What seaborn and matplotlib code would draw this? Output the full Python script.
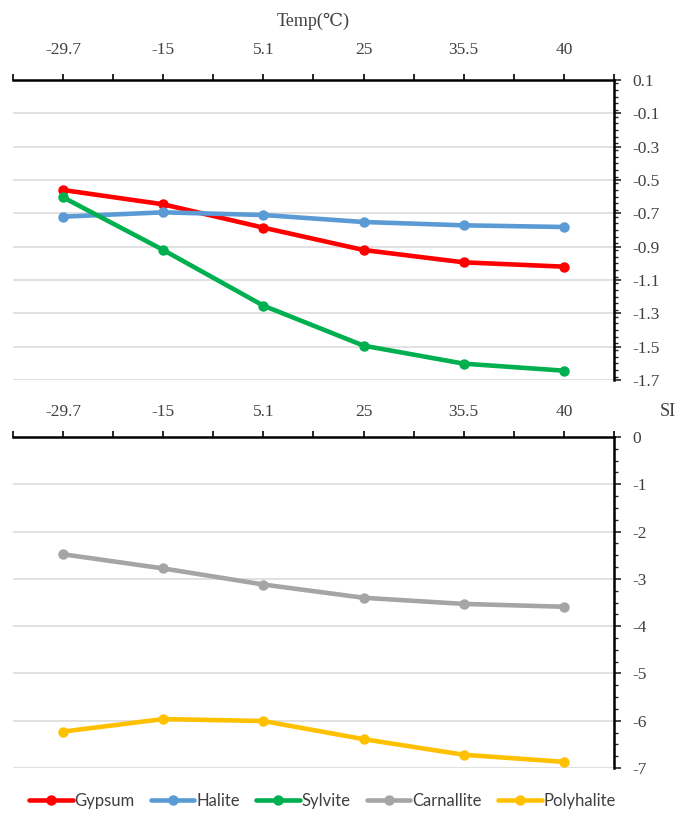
import numpy as np
import pandas as pd
import matplotlib
matplotlib.use("Agg")
import matplotlib.pyplot as plt
import seaborn as sns
from matplotlib.ticker import MultipleLocator, FixedLocator

# ---- data ----
temps = ["-29.7", "-15", "5.1", "25", "35.5", "40"]
gypsum = [-0.56, -0.646, -0.786, -0.92, -0.994, -1.02]
halite = [-0.72, -0.694, -0.71, -0.752, -0.772, -0.782]
sylvite = [-0.604, -0.92, -1.254, -1.494, -1.602, -1.644]
carnallite = [-2.48, -2.78, -3.12, -3.40, -3.53, -3.59]
polyhalite = [-6.23, -5.965, -6.007, -6.39, -6.72, -6.87]
top_ticks = [0.1, -0.1, -0.3, -0.5, -0.7, -0.9, -1.1, -1.3, -1.5, -1.7]

top_names = ["Gypsum", "Halite", "Sylvite"]
bot_names = ["Carnallite", "Polyhalite"]
colors = {"Gypsum": "#FF0000", "Halite": "#5B9BD5", "Sylvite": "#00B050",
          "Carnallite": "#A5A5A5", "Polyhalite": "#FFC000"}

pos = list(range(len(temps)))
def long(names, series):
    rows = []
    for n, s in zip(names, series):
        for p, v in zip(pos, s):
            rows.append({"pos": p, "SI": v, "mineral": n})
    return pd.DataFrame(rows)

df_top = long(top_names, [gypsum, halite, sylvite])
df_bot = long(bot_names, [carnallite, polyhalite])

sns.set_style("white")
serif = ["Liberation Serif", "DejaVu Serif"]
plt.rcParams["font.family"] = serif
plt.rcParams["axes.unicode_minus"] = False

W, H = 689, 817
fig = plt.figure(figsize=(W / 100, H / 100), dpi=100)
L, R = 13 / W, 614 / W
ax1 = fig.add_axes([L, 1 - 380 / H, R - L, 300 / H])
ax2 = fig.add_axes([L, 1 - 768 / H, R - L, 331 / H])

for ax, df, names in [(ax1, df_top, top_names), (ax2, df_bot, bot_names)]:
    sns.lineplot(data=df, x="pos", y="SI", hue="mineral", hue_order=names,
                 palette=colors, marker="o", markersize=7.5, markeredgewidth=0,
                 linewidth=3.3, ax=ax, legend=True, zorder=3)
    ax.set_xlim(-0.5, len(temps) - 0.5)
    ax.xaxis.tick_top()
    ax.xaxis.set_major_locator(FixedLocator(pos))
    ax.set_xticklabels(temps)
    ax.xaxis.set_minor_locator(FixedLocator(np.arange(-0.5, len(temps), 1.0)))
    ax.tick_params(axis="x", which="both", direction="out", length=4, width=1.2,
                   colors="black", top=True, bottom=False)
    ax.tick_params(axis="x", which="major", labelsize=12.5, labelcolor="#404040",
                   labelfontfamily="Liberation Serif")
    ax.yaxis.tick_right()
    ax.tick_params(axis="y", which="major", direction="out", length=5, width=1.2,
                   right=True, left=False, labelsize=12.5, pad=8, labelcolor="#404040",
                   labelfontfamily="Liberation Serif")
    ax.tick_params(axis="y", which="minor", direction="out", length=3, width=1,
                   right=True, left=False)
    for s in ["left", "bottom"]:
        ax.spines[s].set_visible(False)
    for s in ["top", "right"]:
        ax.spines[s].set_visible(True)
        ax.spines[s].set_color("black")
        ax.spines[s].set_linewidth(1.8)
    ax.grid(axis="y", color="#D9D9D9", linewidth=1.1, zorder=0)
    ax.grid(axis="x", visible=False)
    ax.set_xlabel("")
    ax.set_ylabel("")

ax1.set_ylim(-1.7, 0.1)
ax1.yaxis.set_major_locator(FixedLocator(top_ticks))
ax1.set_yticklabels([f"{v:.1f}" for v in top_ticks])
ax1.yaxis.set_minor_locator(MultipleLocator(0.04))
ax1.tick_params(axis="x", which="major", pad=12)

ax2.set_ylim(-7, 0)
ax2.yaxis.set_major_locator(MultipleLocator(1))
ax2.yaxis.set_minor_locator(MultipleLocator(0.25))
ax2.tick_params(axis="x", which="major", pad=8)

for ax in (ax1, ax2):
    for lab in ax.get_xticklabels() + ax.get_yticklabels():
        lab.set_fontfamily("Liberation Serif")

ax1.set_title("Temp(℃)", fontsize=13, family=serif, pad=39, color="#404040")
fig.text(668 / W, 1 - 411 / H, "SI", fontsize=13, family=serif, color="#404040",
         ha="center", va="center")

h1, l1 = ax1.get_legend_handles_labels()
h2, l2 = ax2.get_legend_handles_labels()
ax1.get_legend().remove()
ax2.get_legend().remove()
fig.legend(h1 + h2, l1 + l2, loc="center", bbox_to_anchor=(0.468, 1 - 801 / H),
           ncol=5, frameon=False, prop={"family": ["Lato", "DejaVu Sans"], "size": 12},
           handlelength=2.6, handletextpad=0.1, columnspacing=1.0,
           labelcolor="#404040")

fig.savefig("out.png", dpi=100)
